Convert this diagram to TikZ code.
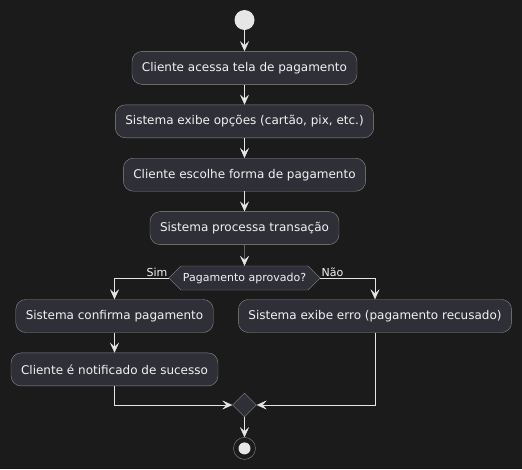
\documentclass[tikz,border=0pt]{standalone}
\usepackage{fontspec}
\setmainfont{DejaVu Sans}
\usetikzlibrary{arrows.meta,positioning,shapes.geometric,shapes.symbols}

\definecolor{bgdark}{HTML}{1B1B1B}
\definecolor{boxfill}{HTML}{2F2F37}
\definecolor{boxline}{HTML}{8C8C8C}
\definecolor{flowline}{HTML}{E6E6E6}
\definecolor{txt}{HTML}{F2F2F2}

\tikzset{
  act/.style={draw=boxline, fill=boxfill, rounded corners=10pt, text=txt,
    minimum height=33pt, inner xsep=10pt, font=\fontsize{12}{14}\selectfont},
  decide/.style={draw=boxline, fill=boxfill, text=txt, shape=signal,
    signal to=west and east, signal pointer angle=90, minimum height=24pt,
    inner xsep=2pt, font=\fontsize{11}{13}\selectfont},
  merger/.style={draw=boxline, fill=boxfill, diamond, minimum size=24pt, inner sep=0pt},
  startdot/.style={circle, fill=flowline, minimum size=20pt, inner sep=0pt},
  stopdot/.style={circle, draw=boxline, fill=bgdark, minimum size=22pt, inner sep=0pt},
  lbl/.style={text=txt, inner sep=1pt, font=\fontsize{11}{13}\selectfont},
  flow/.style={draw=flowline, -{Stealth[length=10pt, width=9pt, inset=4pt]}}
}

\begin{document}
\begin{tikzpicture}[x=1pt, y=-1pt, node distance=20pt]
    \fill[bgdark] (0,0) rectangle (522,469);
    \useasboundingbox (0,0) rectangle (522,469);

    \node[startdot] (start) at (244.5,20) {};
    \node[act] (a1) [below=21pt of start] {Cliente acessa tela de pagamento};
    \node[act] (a2) [below=of a1] {Sistema exibe opções (cartão, pix, etc.)};
    \node[act] (a3) [below=of a2] {Cliente escolhe forma de pagamento};
    \node[act] (a4) [below=of a3] {Sistema processa transação};
    \node[decide] (dec) [below=21pt of a4] {Pagamento aprovado?};

    \node[act] (ok1) at (114.5,316) {Sistema confirma pagamento};
    \node[act] (ok2) [below=of ok1] {Cliente é notificado de sucesso};
    \node[act] (err) at (375,316) {Sistema exibe erro (pagamento recusado)};

    \node[merger] (merge) at (244.5,405) {};
    \node[stopdot] (stop) [below=of merge] {};
    \fill[flowline] (stop) circle (6pt);

  \draw[flow] (start) -- (a1);
  \draw[flow] (a1) -- (a2);
  \draw[flow] (a2) -- (a3);
  \draw[flow] (a3) -- (a4);
  \draw[flow] (a4) -- (dec);
  \draw[flow] (dec.west) node[lbl, anchor=south east] {Sim} -| (ok1);
  \draw[flow] (dec.east) node[lbl, anchor=south west] {Não} -| (err);
  \draw[flow] (ok1) -- (ok2);
  \draw[flow] (ok2) |- (merge.west);
  \draw[flow] (err) |- (merge.east);
  \draw[flow] (merge) -- (stop);
\end{tikzpicture}
\end{document}
